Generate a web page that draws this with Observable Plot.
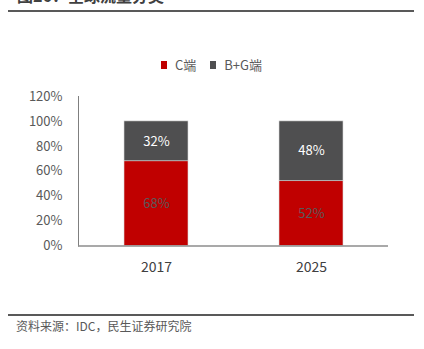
<!DOCTYPE html>
<html>
<head>
<meta charset="utf-8">
<script src="https://cdn.jsdelivr.net/npm/d3@7"></script>
<script src="https://cdn.jsdelivr.net/npm/@observablehq/plot@0.6"></script>
<style>
  html, body { margin: 0; padding: 0; background: #fff; }
  body { width: 424px; height: 349px; overflow: hidden; position: relative;
         font-family: "Noto Sans CJK SC", "Open Sans", sans-serif; }
  #chart { position: absolute; left: 0; top: 0; }
  .title { position: absolute; left: 17px; top: -13px; font-size: 16px; line-height: 16px;
           font-weight: bold; color: #404040; white-space: nowrap; }
  .rule { position: absolute; left: 8px; width: 406px; height: 2px; background: #595959; }
  .legend { position: absolute; top: 55px; left: 161px; font-size: 13px; color: #595959;
            display: flex; align-items: center; white-space: nowrap; }
  .legend .sw { display: inline-block; width: 6px; height: 8px; margin-right: 8px; }
  .legend .item { display: flex; align-items: center; margin-right: 14px; }
  .source { position: absolute; left: 16px; top: 317px; font-size: 12px; color: #595959; white-space: nowrap; }
</style>
</head>
<body>
<div class="title">图26：全球流量分类</div>
<div class="rule" style="top:10px"></div>
<div id="chart"></div>
<div class="legend" id="legend"></div>
<div class="rule" style="top:314px"></div>
<div class="source">资料来源：IDC，民生证券研究院</div>
<script>
const years = ["2017", "2025"];
const series = ["C端", "B+G端"];
const cShare = [0.68, 0.52];
const bgShare = [0.32, 0.48];
const colors = ["#C00000", "#4F4F50"];
const labelColors = ["#595959", "#ffffff"];
const yTicks = [0, 0.2, 0.4, 0.6, 0.8, 1.0, 1.2];

const rows = [];
years.forEach((yr, i) => {
  rows.push({year: yr, series: series[0], value: cShare[i]});
  rows.push({year: yr, series: series[1], value: bgShare[i]});
});

const chart = Plot.plot({
  width: 424,
  height: 290,
  marginTop: 96,
  marginBottom: 44.5,
  marginLeft: 78,
  marginRight: 36,
  style: {fontFamily: '"Noto Sans CJK SC", "Open Sans", sans-serif', background: "transparent"},
  x: {domain: years, paddingInner: 0.588, paddingOuter: 0.29, label: null},
  y: {domain: [0, 1.2], label: null},
  color: {domain: series, range: colors},
  marks: [
    Plot.barY(rows, {x: "year", y: "value", fill: "series", z: "series", order: series,
      stroke: "#d9d9d9", strokeWidth: 0.6}),
    Plot.text(rows, Plot.stackY({x: "year", y: "value", z: "series", order: series,
      text: d => Math.round(d.value * 100) + "%",
      fill: d => labelColors[series.indexOf(d.series)],
      fontSize: 13})),
    Plot.frame({anchor: "left", stroke: "#7f7f7f", strokeWidth: 1}),
    Plot.ruleY([0], {stroke: "#8c8c8c", strokeWidth: 1.5}),
    Plot.axisY({ticks: yTicks, tickFormat: d => Math.round(d * 100) + "%", tickSize: 0,
      tickPadding: 16, fontSize: 13, fill: "#595959", label: null}),
    Plot.axisX({tickSize: 0, tickPadding: 16, fontSize: 14, fill: "#404040", label: null})
  ]
});
document.getElementById("chart").appendChild(chart);

const leg = document.getElementById("legend");
series.forEach((s, i) => {
  const item = document.createElement("span");
  item.className = "item";
  item.innerHTML = `<span class="sw" style="background:${colors[i]}"></span>${s}`;
  leg.appendChild(item);
});
</script>
</body>
</html>
